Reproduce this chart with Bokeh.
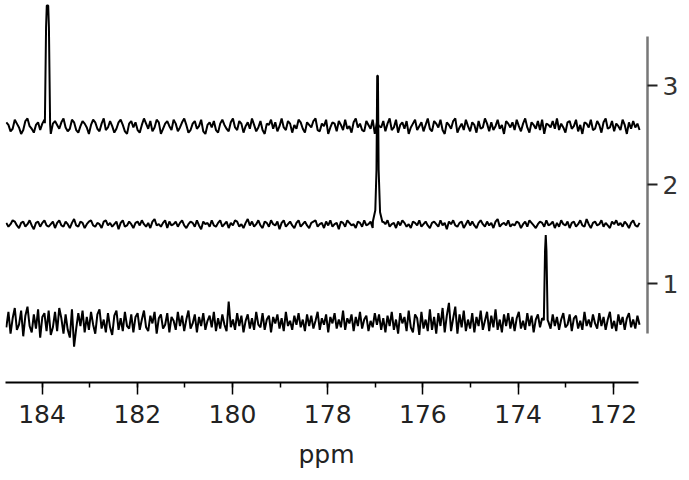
import numpy as np
from bokeh.plotting import figure
from bokeh.models import LinearAxis, Range1d, SingleIntervalTicker, FixedTicker
from bokeh.embed import file_html
from bokeh.resources import INLINE

# ---- data -------------------------------------------------------------
ppm_start = 184.75
ppm_end = 171.45
offsets = [2.59, 1.60, 0.61]          # top, middle, bottom trace baselines
noise_unit = 0.013

top_noise = [
    3, 1, -4, -2, 5, 2, -1, -6, -3, 4, 6, 0, -2, -5, 1, 3, -3, 2, 5, -1,
    -4, -6, 2, 4, 1, -2, 3, 6, -1, -4, -2, 5, 3, -3, -5, 0, 4, 2, -1, -6,
    1, 5, 3, -2, -4, 2, 6, -3, -1, 4, 0, -5, -2, 3, 5, 1, -4, -6, 2, 4,
    -1, 3, -3, -5, 1, 6, 2, -2, 4, -4, -1, 5, 3, -6, -2, 2, 4, 0, -3, 5,
    2, -4, -1, 3, 6, 1, -5, -3, 2, 4, -2, 0, 5, -4, -6, 1, 3, -1, 4, -3,
    -5, 2, 5, 1, -2, -4, 3, 6, -1, -3, 4, 2, -5, 0, 3, -2, 6, 1, -4, -1,
    4, -3, -6, 2, 1, 5, -2, 3, -4, 0, 6, -1, -3, 4, 2, -5, 1, -2, 5, 3,
    -2, -5, 3, 1, -1, 4, 6, -3, -4, 2, 0, 5, -6, -1, 3, 2, -4, 4, 1, -3,
    5, -2, 0, -5, 3, 6, -1, 2, -3, -4, 4, 1, -2, 5, -6, 3, 0, -1, 4, -4,
    2, 6, -3, -1, 5, -5, 1, 3, -2, 4, -6, -1, 2, 5, -3, 0, 3, -4, 1, 6,
    -2, -4, 4, 2, -1, 5, -3, -6, 3, 1, -2, 4, 6, -5, -1, 2, -3, 5, 0, -4,
    3, 1, -5, 4, -2, -1, 6, 2, -4, 3, -3, 0, 5, -2, 1, -6, 4, 2, -1, 3,
    -3, 5, 0, -4, 2, 6, -1, -5, 3, 1, -2, 4, -3, 5, -6, 2, 1, -1, 4, -2,
    6, -3, 2, -1, -5, 3, 4, -2, 0, 5, -4, 1, -6, 3, 2, -1, 5, -3, -2, 4,
    1, -5, 3, 6, -2, -1, 4, -4, 2, 0, -3, 5, 1, -6, 3, -2, 4, -1, 2, -3,
]
mid_noise = [
    1, -2, 0, 3, 2, -1, -3, 1, 2, -2, 0, 3, -1, -4, 1, 2, -2, 1, 3, -1,
    -2, 0, 2, -3, 1, 3, -1, -2, 2, 0, -3, 1, 4, -1, -2, 2, 1, -3, 0, 2,
    3, -1, -2, 1, 0, -3, 2, 3, -1, 1, -2, 0, 2, -4, 1, 3, -2, -1, 2, 0,
    -3, 1, 2, -1, 3, 0, -2, 1, -3, 2, 4, -1, 0, -2, 1, 3, -3, 2, -1, 0,
    2, -2, 1, 3, -1, -3, 0, 2, 1, -2, 3, -1, -4, 2, 0, 1, -2, 3, -1, -2,
    1, 3, -2, 0, 2, -3, 1, -1, 3, 2, -2, 0, -3, 1, 4, -1, 2, -2, 0, 3,
    -1, -3, 2, 1, -2, 3, 0, -1, 2, -4, 1, 3, -2, 0, 2, -1, -3, 1, 3, -2,
    0, 2, -1, -3, 1, 2, 3, -2, 0, 1, -3, 2, -1, 3, -2, 0, 1, -4, 2, 1,
    -2, 3, 1, -1, 0, -3, 2, 1, -2, 3, -1, 0, 2, -3, 1, 4, -2, -1, 2, 0,
    3, -2, 0, 1, -3, 2, -1, 3, 1, -2, 0, -3, 2, 1, -1, 3, -2, 0, 2, -1,
    -3, 1, 2, 0, -2, 3, -1, 1, -4, 2, 0, 3, -1, -2, 1, 2, -3, 0, 3, -1,
    2, -1, -3, 1, 3, 0, -2, 2, -1, 1, -3, 2, 4, -2, 0, 1, -1, 3, -2, 0,
    -1, 2, 1, -3, 0, 2, -2, 3, 1, -1, -3, 0, 2, 1, -2, 3, -1, 0, 2, -3,
    1, -2, 3, 0, -1, 2, -3, 1, 2, -2, 0, 3, -1, -2, 4, 0, -3, 1, 2, -1,
    0, 3, -2, 1, -1, -3, 2, 0, 3, -1, 1, -2, 2, 0, -3, 1, 3, -1, -2, 1,
]
bot_noise = [
    -4, 8, -9, 3, 11, -6, -2, 9, -11, 5, 12, -3, -8, 6, -5, 10, -12, 4, 7, -7,
    9, -10, -4, 8, -7, 11, 3, -9, 6, -6, -12, 10, -19, -5, 7, -3, 9, -8, 4, -6,
    8, -2, -9, 6, 10, -5, 2, -8, 7, -4, -10, 5, 9, -6, 3, -7, 8, -3, -5, 6,
    -8, 4, 7, -6, 2, 9, -4, -7, 5, -1, 8, -9, 3, 6, -5, -2, 7, -8, 4, 1,
    -6, 8, -3, 5, -7, 2, 9, -5, -1, 6, -8, 4, -3, 7, -6, 1, 5, -4, 8, -7,
    3, -5, 6, -2, -7, 16, -4, 2, -6, 7, -3, 5, -8, 1, 6, -5, 3, -6, 8, -2,
    -4, 7, -6, 2, 5, -8, 4, -1, 6, -5, 3, -7, 8, -3, 1, -6, 5, -2, 7, -4,
    2, -7, 6, -3, 5, -5, 1, 8, -6, 3, -2, 6, -8, 4, -1, 7, -5, 2, -4, 9,
    -6, 3, -1, 6, -7, 4, -3, 8, -5, 2, 5, -7, 1, -4, 7, -2, 6, -6, 3, -8,
    5, -3, 8, -6, 2, -9, 7, -1, 4, -7, 9, -4, -8, 6, 3, -10, 8, -5, 2, -7,
    10, -6, 4, -9, 7, -3, 11, -8, 5, 15, -7, 3, 12, -9, 6, -4, 9, -7, 2, -5,
    7, -8, 4, -3, 9, -6, 1, 8, -7, 5, -4, 10, -6, 2, -8, 6, -3, 7, -5, 4,
    -7, 3, 8, -5, 1, -6, 7, -3, 5, -8, 2, 6, -4, 3, 0, 0, 0, -5, 6, -3,
    4, -6, 2, 7, -4, -2, 6, -7, 3, 5, -5, 1, -6, 8, -3, 2, -4, 6, -1, -5,
    7, -3, 4, -6, 2, 8, -5, 1, -7, 6, -2, 4, -6, 3, 7, -4, 2, -5, 5, -2,
]

top_peak_ppm = [183.94, 183.915, 183.90, 183.87, 183.855, 183.83]
top_peak_val = [0.03, 1.00, 1.22, 1.22, 1.00, 0.02]
mid_peak_ppm = [177.05, 177.00, 176.975, 176.96, 176.945, 176.93, 176.90, 176.85]
mid_peak_val = [0.03, 0.14, 0.55, 1.50, 1.50, 0.55, 0.12, 0.02]
bot_peak_ppm = [173.46, 173.435, 173.42, 173.405, 173.38]
bot_peak_val = [0.02, 0.72, 0.88, 0.72, 0.02]

x_ticks_interval = 2
y_ticks = [1, 2, 3]


def build(noise, offset, pk_ppm, pk_val):
    x = np.linspace(ppm_start, ppm_end, len(noise))
    y = np.array(noise, dtype=float) * noise_unit
    mask = (x > max(pk_ppm)) | (x < min(pk_ppm))
    xs = np.concatenate([x[mask], np.array(pk_ppm)])
    ys = np.concatenate([y[mask], np.array(pk_val)])
    order = np.argsort(-xs)
    return xs[order], ys[order] + offset


traces = [
    build(top_noise, offsets[0], top_peak_ppm, top_peak_val),
    build(mid_noise, offsets[1], mid_peak_ppm, mid_peak_val),
    build(bot_noise, offsets[2], bot_peak_ppm, bot_peak_val),
]

# ---- figure -----------------------------------------------------------
FONT = "DejaVu Sans"
p = figure(width=681, height=480,
           x_range=Range1d(184.767, 171.283), y_range=Range1d(0.0, 3.86),
           output_backend="svg", toolbar_location=None,
           y_axis_location=None,
           min_border_left=5, min_border_top=0,
           min_border_right=31, min_border_bottom=98)
p.outline_line_color = None
p.xgrid.visible = False
p.ygrid.visible = False
p.background_fill_color = "white"
p.border_fill_color = "white"

for xs, ys in traces:
    p.line(xs, ys, line_color="black", line_width=2.0)

xa = p.xaxis[0]
xa.ticker = SingleIntervalTicker(interval=x_ticks_interval, num_minor_ticks=2)
xa.bounds = (171.47, 184.767)
xa.axis_line_color = "black"
xa.axis_line_width = 2
xa.major_tick_line_color = "black"
xa.major_tick_line_width = 1.5
xa.major_tick_in = 0
xa.major_tick_out = 12
xa.minor_tick_line_color = "black"
xa.minor_tick_line_width = 1.5
xa.minor_tick_in = 0
xa.minor_tick_out = 5
xa.major_label_text_font = FONT
xa.major_label_text_font_size = "25px"
xa.major_label_text_color = "#222222"
xa.major_label_standoff = 10
xa.axis_label = "ppm"
xa.axis_label_text_font = FONT
xa.axis_label_text_font_size = "25px"
xa.axis_label_text_font_style = "normal"
xa.axis_label_text_color = "#222222"
xa.axis_label_standoff = 14

ya = LinearAxis(ticker=FixedTicker(ticks=y_ticks), bounds=(0.5, 3.5))
ya.axis_line_color = "#777777"
ya.axis_line_width = 2.5
ya.major_tick_line_color = "#222222"
ya.major_tick_line_width = 2
ya.major_tick_in = 0
ya.major_tick_out = 10
ya.minor_tick_line_color = None
ya.major_label_text_font = FONT
ya.major_label_text_font_size = "25px"
ya.major_label_text_color = "#333333"
ya.major_label_standoff = 5
p.add_layout(ya, "right")

open("out.html", "w").write(file_html(p, INLINE))
